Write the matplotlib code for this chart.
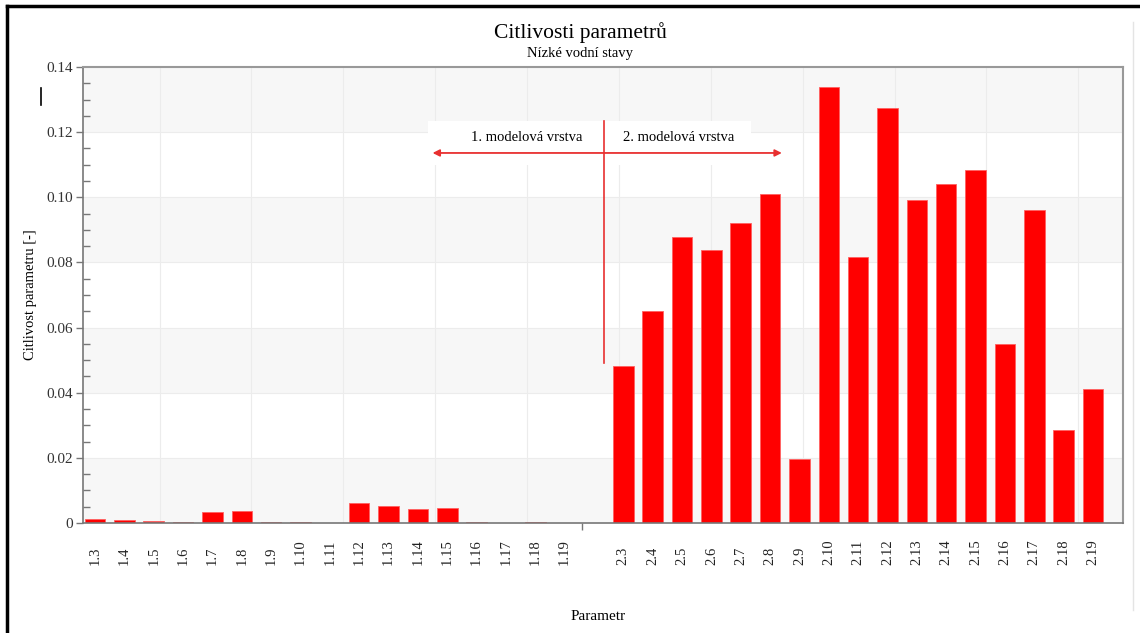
import numpy as np
import matplotlib
matplotlib.use("Agg")
import matplotlib.pyplot as plt
from matplotlib.lines import Line2D
from matplotlib.patches import Rectangle

plt.rcParams['font.family'] = ['Liberation Serif', 'DejaVu Serif']

# data
labels_1 = ['1.3', '1.4', '1.5', '1.6', '1.7', '1.8', '1.9', '1.10', '1.11',
            '1.12', '1.13', '1.14', '1.15', '1.16', '1.17', '1.18', '1.19']
values_1 = [0.0011, 0.0009, 0.0006, 0.0004, 0.0033, 0.0037, 0.0003, 0.0003, 0.0,
            0.0061, 0.0052, 0.0044, 0.0047, 0.0003, 0.0, 0.0003, 0.0]
labels_2 = ['2.3', '2.4', '2.5', '2.6', '2.7', '2.8', '2.9', '2.10', '2.11',
            '2.12', '2.13', '2.14', '2.15', '2.16', '2.17', '2.18', '2.19']
values_2 = [0.0483, 0.0652, 0.0879, 0.0839, 0.0922, 0.1009, 0.0197, 0.1338, 0.0818,
            0.1273, 0.0992, 0.1040, 0.1084, 0.0548, 0.0960, 0.0284, 0.0410]

# layer 2 is drawn after a one-slot gap
pos_1 = np.arange(len(labels_1))
pos_2 = np.arange(len(labels_2)) + len(labels_1) + 1
positions = np.concatenate([pos_1, pos_2])
labels = labels_1 + labels_2
values = values_1 + values_2

fig = plt.figure(figsize=(11.4, 6.33), dpi=100)
ax = fig.add_axes([0.0728, 0.1738, 0.9122, 0.7204])

ax.set_xlim(-0.41, 35.02)
ax.set_ylim(0, 0.14)

# alternating background bands
for y0 in [0.0, 0.04, 0.08, 0.12]:
    ax.axhspan(y0, y0 + 0.02, color='#f7f7f7', zorder=0, lw=0)
for y0 in np.arange(0.02, 0.14, 0.02):
    ax.axhline(y0, color='#ececec', lw=0.8, zorder=0.5)
for xg in np.arange(2.2, 35, 3.13):
    ax.axvline(xg, color='#ececec', lw=0.8, zorder=0.5)

ax.bar(positions, values, width=0.7, color='#ff0000', edgecolor='#ff6060',
       linewidth=0.6, zorder=2)

# axes styling
for side in ['left', 'bottom']:
    ax.spines[side].set_color('#777777')
    ax.spines[side].set_linewidth(1.2)
for side in ['top', 'right']:
    ax.spines[side].set_color('#999999')
    ax.spines[side].set_linewidth(1.5)

ax.set_yticks(np.arange(0, 0.141, 0.02))
ax.set_yticklabels(['0'] + ['%.2f' % v for v in np.arange(0.02, 0.141, 0.02)])
ax.set_yticks(np.arange(0, 0.141, 0.005), minor=True)
ax.tick_params(axis='y', which='major', direction='out', length=5, width=1,
               color='#777777', labelsize=11, pad=2, labelcolor='#333333')
ax.tick_params(axis='y', which='minor', direction='in', length=5, width=1,
               color='#777777')

ax.set_xticks(positions)
ax.set_xticklabels(labels, rotation=90, va='bottom', ha='center')
ax.set_xticks([2, 5, 8, 11, 14, 16.6, 18, 21, 24, 27, 30, 33], minor=True)
ax.tick_params(axis='x', which='major', length=0, labelsize=10.5, pad=30,
               labelcolor='#222222')
ax.tick_params(axis='x', which='minor', direction='out', length=5, width=1,
               color='#777777')

ax.set_ylabel('Citlivost parametru [-]', fontsize=10.5)
ax.yaxis.set_label_coords(-0.044, 0.5)
ax.set_xlabel('Parametr', fontsize=11)
ax.xaxis.set_label_coords(0.495, -0.19)

# layer annotation
ax.add_patch(Rectangle((11.35, 0.110), 11.0, 0.0134, facecolor='white',
                       edgecolor='none', zorder=3))
ax.text(14.7, 0.1182, '1. modelová vrstva', fontsize=10.5, ha='center',
        va='center', zorder=4)
ax.text(19.9, 0.1182, '2. modelová vrstva', fontsize=10.5, ha='center',
        va='center', zorder=4)
ax.annotate('', xy=(11.5, 0.1136), xytext=(23.4, 0.1136),
            arrowprops=dict(arrowstyle='<|-|>', color='#e83030', lw=1.3,
                            mutation_scale=10, shrinkA=0, shrinkB=0), zorder=4)
ax.plot([17.35, 17.35], [0.1234, 0.0492], color='#e83030', lw=1.2, zorder=4)

# titles
fig.text(0.509, 0.949, 'Citlivosti parametrů', fontsize=15.5, ha='center',
         va='center')
fig.text(0.509, 0.916, 'Nízké vodní stavy', fontsize=10.5, ha='center',
         va='center')

# stray mark and frame of the screenshot
fig.add_artist(Line2D([41 / 1140, 41 / 1140], [1 - 88 / 633, 1 - 105 / 633],
                      color='black', lw=1.2))
fig.add_artist(Line2D([7 / 1140, 7 / 1140], [0, 1 - 6 / 633], color='black', lw=2.5))
fig.add_artist(Line2D([7 / 1140, 1], [1 - 6 / 633, 1 - 6 / 633], color='black', lw=2.5))
fig.add_artist(Line2D([1133 / 1140, 1133 / 1140], [1 - 22 / 633, 1 - 610 / 633],
                      color='#e4e4e4', lw=1))

fig.savefig('out.png', dpi=100)
